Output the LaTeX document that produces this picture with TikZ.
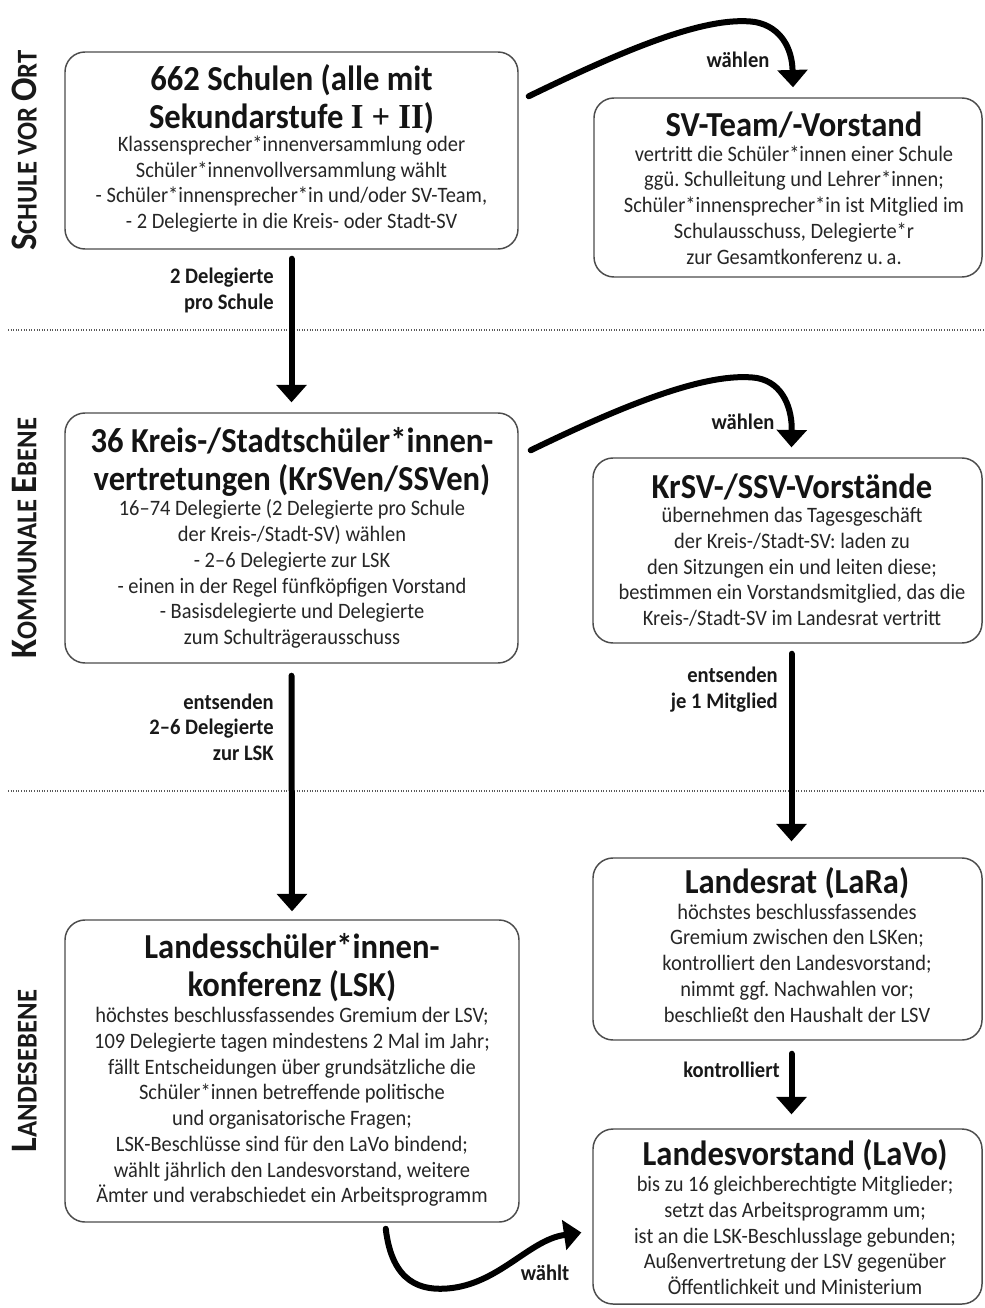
\documentclass[tikz,border=0pt]{standalone}
\usepackage{fontspec}
\setmainfont{Carlito}[FakeStretch=0.93]
\newfontfamily\romnum{Liberation Serif}[FakeStretch=0.93]
\usetikzlibrary{arrows.meta,calc,fit}
\newcommand\sclet[1]{{\fontsize{28}{28}\selectfont #1}}
\frenchspacing
\begin{document}
\begin{tikzpicture}[x=0.75pt,y=-0.75pt,
  box/.style={draw=black!70, line width=1.1pt, rounded corners=15pt, inner sep=0pt},
  ttl/.style={font=\fontsize{26.3}{28.5}\selectfont\bfseries, align=center, inner sep=0pt, text=black!92},
  bdy/.style={font=\fontsize{16.5}{19.3}\selectfont, align=center, inner sep=0pt, text=black!85},
  lab/.style={font=\fontsize{16.6}{19}\selectfont\bfseries, align=right, inner sep=0pt, text=black!90},
  side/.style={rotate=90, font=\fontsize{21.5}{21.5}\selectfont\bfseries, inner sep=0pt, text=black!90},
  arr/.style={line width=4.5pt, line cap=round, -{Triangle[width=23pt,length=13pt,line width=0pt]}},
  sep/.style={black!65, line width=0.8pt, dash pattern=on 0.75pt off 1.2pt},
]
\useasboundingbox (0,0) rectangle (984,1308);
\fill[white] (0,0) rectangle (984,1308);

% separators
\coordinate (s1a) at (8,330);  \coordinate (s1b) at (984,330);
\coordinate (s2a) at (8,791);  \coordinate (s2b) at (984,791);
\draw[sep] (s1a) -- (s1b);
\draw[sep] (s2a) -- (s2b);

% side labels
\node[side] (side1) at (24.5,150.5) {\sclet{S}CHULE VOR \sclet{O}RT};
\node[side] (side2) at (24.5,538) {\sclet{K}OMMUNALE \sclet{E}BENE};
\node[side] (side3) at (24.5,1071) {\sclet{L}ANDESEBENE};

% boxes
\node[box, fit={(65,52) (518,249)}] (b1) {};
\node[box, fit={(594,98) (982,277)}] (b2) {};
\node[box, fit={(65,413) (518,663)}] (b3) {};
\node[box, fit={(593,458) (982,643)}] (b4) {};
\node[box, fit={(65,920) (519,1222)}] (b5) {};
\node[box, fit={(593,858) (982,1040)}] (b6) {};
\node[box, fit={(593,1129) (982,1304)}] (b7) {};

% box texts
\node[ttl] (b1t) at (291.5,99) {662 Schulen (alle mit\\Sekundarstufe {\romnum I + II})};
\node[bdy] (b1b) at (291.5,184) {Klassensprecher*innenversammlung oder\\Schüler*innenvollversammlung wählt\\- Schüler*innensprecher*in und/oder SV-Team,\\- 2 Delegierte in die Kreis- oder Stadt-SV};

\node[ttl] (b2t) at (794,125) {SV-Team/-Vorstand};
\node[bdy] (b2b) at (794,205) {vertritt die Schüler*innen einer Schule\\ggü. Schulleitung und Lehrer*innen;\\Schüler*innensprecher*in ist Mitglied im\\Schulausschuss, Delegierte*r\\zur Gesamtkonferenz u.\,a.};

\node[ttl] (b3t) at (292,461.5) {36 Kreis-/Stadtschüler*innen-\\vertretungen (KrSVen/SSVen)};
\node[bdy] (b3b) at (292,574) {16–74 Delegierte (2 Delegierte pro Schule\\der Kreis-/Stadt-SV) wählen\\- 2–6 Delegierte zur LSK\\- einen in der Regel fünfköpfigen Vorstand\\- Basisdelegierte und Delegierte\\zum Schulträgerausschuss};

\node[ttl] (b4t) at (792,487) {KrSV-/SSV-Vorstände};
\node[bdy] (b4b) at (792,567) {übernehmen das Tagesgeschäft\\der Kreis-/Stadt-SV: laden zu\\den Sitzungen ein und leiten diese;\\bestimmen ein Vorstandsmitglied, das die\\Kreis-/Stadt-SV im Landesrat vertritt};

\node[ttl] (b5t) at (292,968) {Landesschüler*innen-\\konferenz (LSK)};
\node[bdy] (b5b) at (292,1107) {höchstes beschlussfassendes Gremium der LSV;\\109 Delegierte tagen mindestens 2 Mal im Jahr;\\fällt Entscheidungen über grundsätzliche die\\Schüler*innen betreffende politische\\und organisatorische Fragen;\\LSK-Beschlüsse sind für den LaVo bindend;\\wählt jährlich den Landesvorstand, weitere\\Ämter und verabschiedet ein Arbeitsprogramm};

\node[ttl] (b6t) at (797,883) {Landesrat (LaRa)};
\node[bdy] (b6b) at (797,963) {höchstes beschlussfassendes\\Gremium zwischen den LSKen;\\kontrolliert den Landesvorstand;\\nimmt ggf. Nachwahlen vor;\\beschließt den Haushalt der LSV};

\node[ttl] (b7t) at (795,1155) {Landesvorstand (LaVo)};
\node[bdy] (b7b) at (795,1235.5) {bis zu 16 gleichberechtigte Mitglieder;\\setzt das Arbeitsprogramm um;\\ist an die LSK-Beschlusslage gebunden;\\Außenvertretung der LSV gegenüber\\Öffentlichkeit und Ministerium};

% straight arrows
\draw[arr] ($(b1.south)+(0,9)$) -- ($(b3.north)+(0,-10)$);
\draw[arr] ($(b3.south)+(0,12)$) -- ($(b5.north)+(0,-8)$);
\draw[arr] ($(b4.south)+(4,10)$) -- ($(b6.north)+(4,-16)$);
\draw[arr] ($(b6.south)+(4,13)$) -- ($(b7.north)+(4,-14)$);

% curved arrows
\draw[arr] ($(b1.north east)+(10,45)$) .. controls (620,52) and (705,15) .. (755,22) .. controls (782,27) and (792,50) .. ($(b2.north)+(5,-10)$);
\draw[arr] ($(b3.north east)+(12,38)$) .. controls (622,406) and (707,371) .. (757,378) .. controls (784,383) and (792,410) .. ($(b4.north)+(4,-10)$);
\draw[arr] ($(b5.south east)+(-134,6)$) .. controls (392,1282) and (420,1292) .. (452,1288) .. controls (500,1282) and (530,1240) .. ($(b7.west)+(-11,16)$);

% arrow labels
\node[lab, anchor=east] (l1) at (274,290.5) {2 Delegierte\\pro Schule};
\node[lab, anchor=east] (l2) at (274,727) {entsenden\\2–6 Delegierte\\zur LSK};
\node[lab, anchor=east] (l3) at (778,689.5) {entsenden\\je 1 Mitglied};
\node[lab, anchor=east] (l4) at (780,1070) {kontrolliert};
\node[lab] (l5) at (738,60) {wählen};
\node[lab] (l6) at (743,422) {wählen};
\node[lab] (l7) at (545,1273) {wählt};
\end{tikzpicture}
\end{document}
